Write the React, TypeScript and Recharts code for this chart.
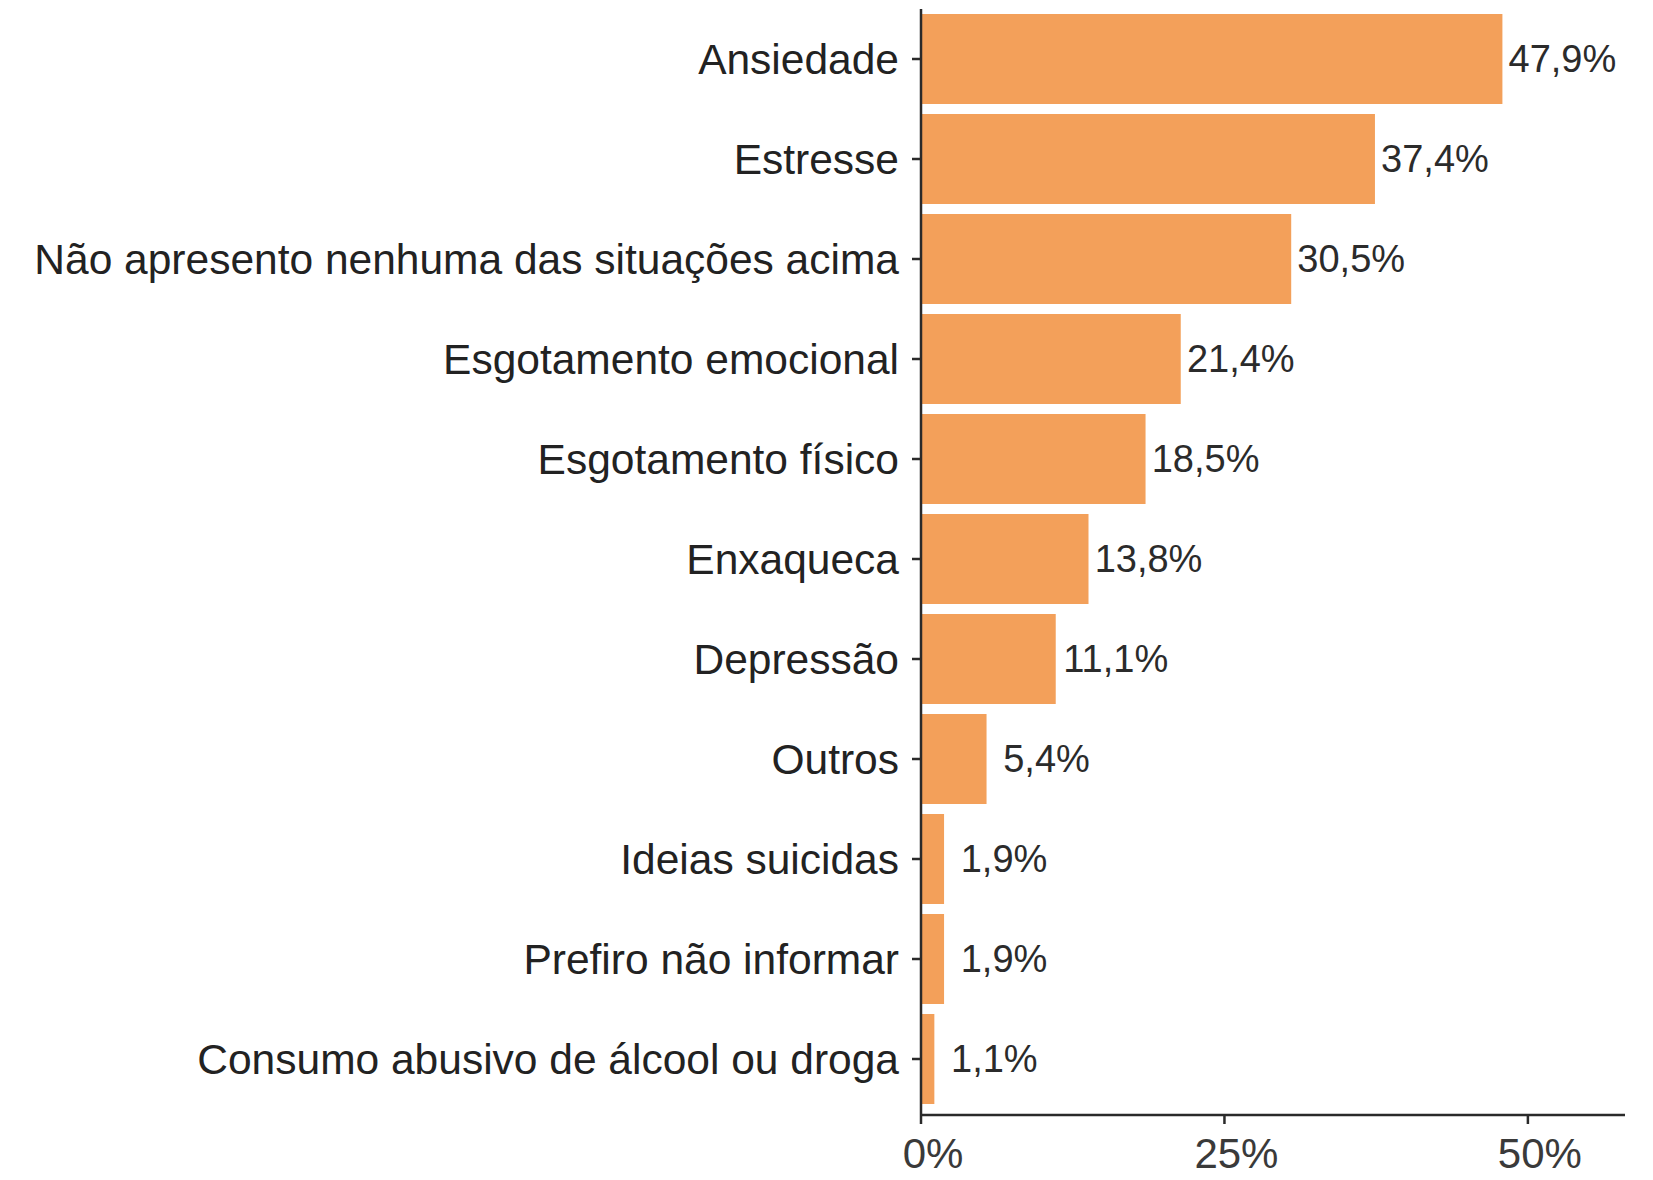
import React from "react"
import { BarChart, Bar, XAxis, YAxis, LabelList } from "recharts"

const categories = [
  "Ansiedade",
  "Estresse",
  "Não apresento nenhuma das situações acima",
  "Esgotamento emocional",
  "Esgotamento físico",
  "Enxaqueca",
  "Depressão",
  "Outros",
  "Ideias suicidas",
  "Prefiro não informar",
  "Consumo abusivo de álcool ou droga",
]
const percentages = [47.9, 37.4, 30.5, 21.4, 18.5, 13.8, 11.1, 5.4, 1.9, 1.9, 1.1]
const xTicks = [0, 25, 50]

const data = categories.map((name, i) => ({ name, value: percentages[i] }))

const fmt = (v: number) => `${v.toFixed(1).replace(".", ",")}%`

const FONT = "'Liberation Sans', Arial, sans-serif"
const BAR_COLOR = "#F3A05A"
const AXIS_COLOR = "#2a2a2a"

const ValueLabel = (props: any) => {
  const { x, y, width, height, value } = props
  return (
    <text
      x={x + width + 60}
      y={y + height / 2}
      textAnchor="middle"
      dominantBaseline="central"
      fontSize={38}
      fontFamily={FONT}
      fill="#2b2b2b"
    >
      {fmt(value)}
    </text>
  )
}

export default function App() {
  return (
    <div style={{ position: "absolute", left: 0, top: 0, background: "#fff" }}>
      <BarChart
        width={1653}
        height={1180}
        data={data}
        layout="vertical"
        margin={{ top: 9, right: 28, bottom: 0, left: 0 }}
        barCategoryGap="5%"
      >
        <XAxis
          type="number"
          domain={[0, 58]}
          ticks={xTicks}
          allowDataOverflow
          tickFormatter={(v: number) => `${v}%`}
          height={65}
          tickSize={9}
          tickMargin={14}
          axisLine={{ stroke: AXIS_COLOR, strokeWidth: 2.5 }}
          tickLine={{ stroke: AXIS_COLOR, strokeWidth: 2.5 }}
          tick={{ fontSize: 42, fontFamily: FONT, fill: "#3a3a3a", dx: 12 }}
        />
        <YAxis
          type="category"
          dataKey="name"
          width={921}
          interval={0}
          tickSize={9}
          tickMargin={13}
          padding={{ top: 0, bottom: 6 }}
          axisLine={{ stroke: AXIS_COLOR, strokeWidth: 2.5 }}
          tickLine={{ stroke: AXIS_COLOR, strokeWidth: 2.5 }}
          tick={{ fontSize: 42.5, fontFamily: FONT, fill: "#222222" }}
        />
        <Bar dataKey="value" fill={BAR_COLOR} isAnimationActive={false}>
          <LabelList dataKey="value" content={ValueLabel} />
        </Bar>
      </BarChart>
    </div>
  )
}
